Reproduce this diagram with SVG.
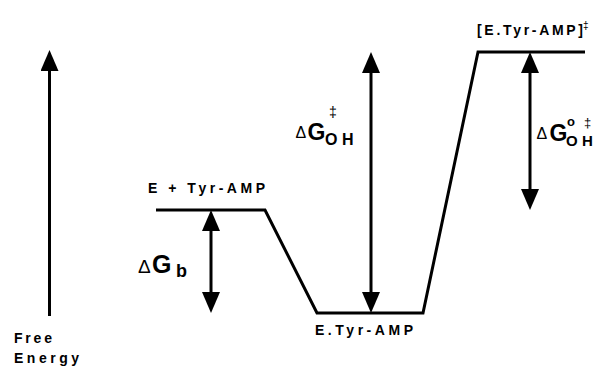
<svg xmlns="http://www.w3.org/2000/svg" width="604" height="367" viewBox="0 0 604 367">
<style>
  .ln { stroke: #000; stroke-width: 3; fill: none; }
  .lbl { font-family: "Liberation Sans", Arial, sans-serif; font-weight: bold; font-size: 14px; fill: #000; }
  .sym { font-family: "Liberation Sans", Arial, sans-serif; fill: #000; }
  .b { font-weight: bold; }
</style>
<defs>
  <marker id="ah" viewBox="0 0 21 18" markerWidth="21" markerHeight="18" refX="11" refY="9" orient="auto-start-reverse" markerUnits="userSpaceOnUse">
    <path d="M0,0 L21,9 L0,18 z" fill="#000"/>
  </marker>
</defs>
<rect width="604" height="367" fill="#fff"/>

<g id="axis">
  <line class="ln" x1="49.5" y1="316" x2="49.5" y2="60" marker-end="url(#ah)"/>
  <text class="lbl" x="14" y="343" textLength="38" lengthAdjust="spacing">Free</text>
  <text class="lbl" x="14" y="362.5" textLength="65" lengthAdjust="spacing">Energy</text>
</g>

<g id="profile">
  <polyline class="ln" points="156,210 265,210 317,313 423,313 478,52 585,52" stroke-linejoin="miter"/>
</g>

<g id="state-unbound">
  <text class="lbl" x="148" y="193" textLength="117" lengthAdjust="spacing">E + Tyr-AMP</text>
</g>
<g id="state-complex">
  <text class="lbl" x="315" y="335" textLength="98" lengthAdjust="spacing">E.Tyr-AMP</text>
</g>
<g id="state-transition">
  <text class="lbl" x="477" y="34.5" textLength="106" lengthAdjust="spacing">[E.Tyr-AMP]</text>
  <text class="sym" x="583" y="29" font-size="10">‡</text>
</g>

<g id="connectors">
  <line class="ln" x1="211" y1="220" x2="211" y2="303" marker-start="url(#ah)" marker-end="url(#ah)"/>
  <line class="ln" x1="371" y1="62" x2="371" y2="303" marker-start="url(#ah)" marker-end="url(#ah)"/>
  <line class="ln" x1="530" y1="62" x2="530" y2="200" marker-start="url(#ah)" marker-end="url(#ah)"/>
</g>

<g id="label-dGb">
  <text class="sym" x="138" y="272.5" font-size="19">Δ</text>
  <text class="sym b" x="152" y="273" font-size="25">G</text>
  <text class="sym b" x="176" y="277" font-size="18">b</text>
</g>
<g id="label-dGoh">
  <text class="sym" x="295.5" y="137.5" font-size="16">Δ</text>
  <text class="sym b" x="307.5" y="140" font-size="23">G</text>
  <text class="sym b" x="325" y="145" font-size="16">O</text>
  <text class="sym b" x="342" y="145" font-size="16">H</text>
  <text class="sym" x="329" y="117" font-size="14">‡</text>
</g>
<g id="label-dGooh">
  <text class="sym" x="536.5" y="139" font-size="16">Δ</text>
  <text class="sym b" x="549.5" y="141" font-size="23">G</text>
  <text class="sym b" x="566" y="146" font-size="15">O</text>
  <text class="sym b" x="582" y="146" font-size="15">H</text>
  <text class="sym b" x="567" y="126" font-size="13">o</text>
  <text class="sym" x="584" y="127" font-size="13">‡</text>
</g>
</svg>
